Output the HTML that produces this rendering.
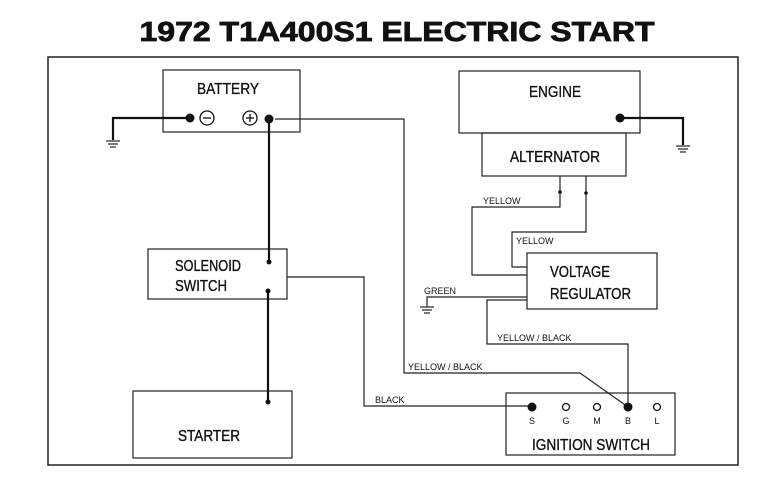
<!DOCTYPE html>
<html><head><meta charset="utf-8"><style>
html,body{margin:0;padding:0;background:#fff;}
svg{display:block;}
text{font-family:"Liberation Sans",sans-serif;fill:#111;}
.b{font-size:16px;stroke:#111;stroke-width:0.35;}
.s{font-size:9px;}
</style></head><body>
<svg width="771" height="488" viewBox="0 0 771 488" xmlns="http://www.w3.org/2000/svg">
<text x="397" y="41" text-anchor="middle" font-size="28" font-weight="bold" stroke="#111" stroke-width="0.8" textLength="515" lengthAdjust="spacingAndGlyphs">1972 T1A400S1 ELECTRIC START</text>
<rect x="48" y="57" width="690" height="408" fill="none" stroke="#222" stroke-width="1.5"/>
<g fill="none" stroke="#222" stroke-width="1.2">
<rect x="163" y="70" width="137" height="62"/>
<rect x="459" y="71" width="181" height="62"/>
<rect x="482" y="133" width="144" height="43"/>
<rect x="148" y="249" width="139" height="50"/>
<rect x="527" y="253" width="130" height="56"/>
<rect x="133" y="391" width="159" height="67"/>
<rect x="506" y="393" width="169" height="62"/>
<polyline points="275,119 404,119 404,373 580,373 628,407"/>
<polyline points="287,277 364,277 364,406 532,406"/>
<polyline points="527,300 487,300 487,344 628,344 628,407"/>
<polyline points="527,297 427,297 427,307"/>
<polyline points="560,176 560,207 472,207 472,275 527,275"/>
<polyline points="586,176 586,232 512,232 512,267 527,267"/>
</g>
<g fill="none" stroke="#111" stroke-width="2.2">
<polyline points="190,118 113,118 113,140"/>
<polyline points="620,118 683,118 683,145"/>
<line x1="269" y1="119" x2="269" y2="262"/>
<line x1="268" y1="291" x2="268" y2="402"/>
</g>
<g stroke="#222" stroke-width="1.2">
<line x1="106" y1="141" x2="120" y2="141"/><line x1="108" y1="144" x2="118" y2="144"/><line x1="110" y1="147" x2="116" y2="147"/>
<line x1="676" y1="146" x2="690" y2="146"/><line x1="678" y1="149" x2="688" y2="149"/><line x1="680" y1="152" x2="686" y2="152"/>
<line x1="420" y1="307" x2="434" y2="307"/><line x1="422" y1="310" x2="432" y2="310"/><line x1="424" y1="313" x2="430" y2="313"/>
</g>
<g fill="#111">
<circle cx="190" cy="118" r="4.5"/><circle cx="269" cy="119" r="4.5"/><circle cx="620" cy="118" r="4.5"/>
<circle cx="269" cy="262" r="2.5"/><circle cx="268" cy="291" r="2.5"/><circle cx="268" cy="402" r="2.5"/>
<circle cx="560" cy="192" r="1.8"/><circle cx="586" cy="193" r="1.8"/>
<circle cx="532" cy="407" r="4.5"/><circle cx="628" cy="407" r="4.5"/>
</g>
<g fill="none" stroke="#111" stroke-width="1.3">
<circle cx="207" cy="118" r="7"/><line x1="203" y1="118" x2="211" y2="118"/>
<circle cx="250" cy="118" r="7"/><line x1="246" y1="118" x2="254" y2="118"/><line x1="250" y1="114" x2="250" y2="122"/>
<circle cx="566" cy="407" r="3.5"/><circle cx="597" cy="407" r="3.5"/><circle cx="657" cy="407" r="3.5"/>
</g>
<text class="b" x="228" y="94" text-anchor="middle" textLength="62" lengthAdjust="spacingAndGlyphs">BATTERY</text>
<text class="b" x="555" y="97" text-anchor="middle" textLength="52" lengthAdjust="spacingAndGlyphs">ENGINE</text>
<text class="b" x="555" y="162" text-anchor="middle" textLength="90" lengthAdjust="spacingAndGlyphs">ALTERNATOR</text>
<text class="b" x="175" y="271" textLength="66" lengthAdjust="spacingAndGlyphs">SOLENOID</text>
<text class="b" x="175" y="291" textLength="52" lengthAdjust="spacingAndGlyphs">SWITCH</text>
<text class="b" x="550" y="277" textLength="60" lengthAdjust="spacingAndGlyphs">VOLTAGE</text>
<text class="b" x="550" y="299" textLength="81" lengthAdjust="spacingAndGlyphs">REGULATOR</text>
<text class="b" x="178" y="441" textLength="62" lengthAdjust="spacingAndGlyphs">STARTER</text>
<text class="b" x="532" y="450" textLength="118" lengthAdjust="spacingAndGlyphs">IGNITION SWITCH</text>
<text class="s" x="483" y="204">YELLOW</text>
<text class="s" x="516" y="244">YELLOW</text>
<text class="s" x="424" y="294">GREEN</text>
<text class="s" x="497" y="341">YELLOW / BLACK</text>
<text class="s" x="408" y="370">YELLOW / BLACK</text>
<text class="s" x="375" y="403">BLACK</text>
<text class="s" x="532" y="424" text-anchor="middle">S</text>
<text class="s" x="566" y="424" text-anchor="middle">G</text>
<text class="s" x="597" y="424" text-anchor="middle">M</text>
<text class="s" x="628" y="424" text-anchor="middle">B</text>
<text class="s" x="657" y="424" text-anchor="middle">L</text>
</svg>
</body></html>
